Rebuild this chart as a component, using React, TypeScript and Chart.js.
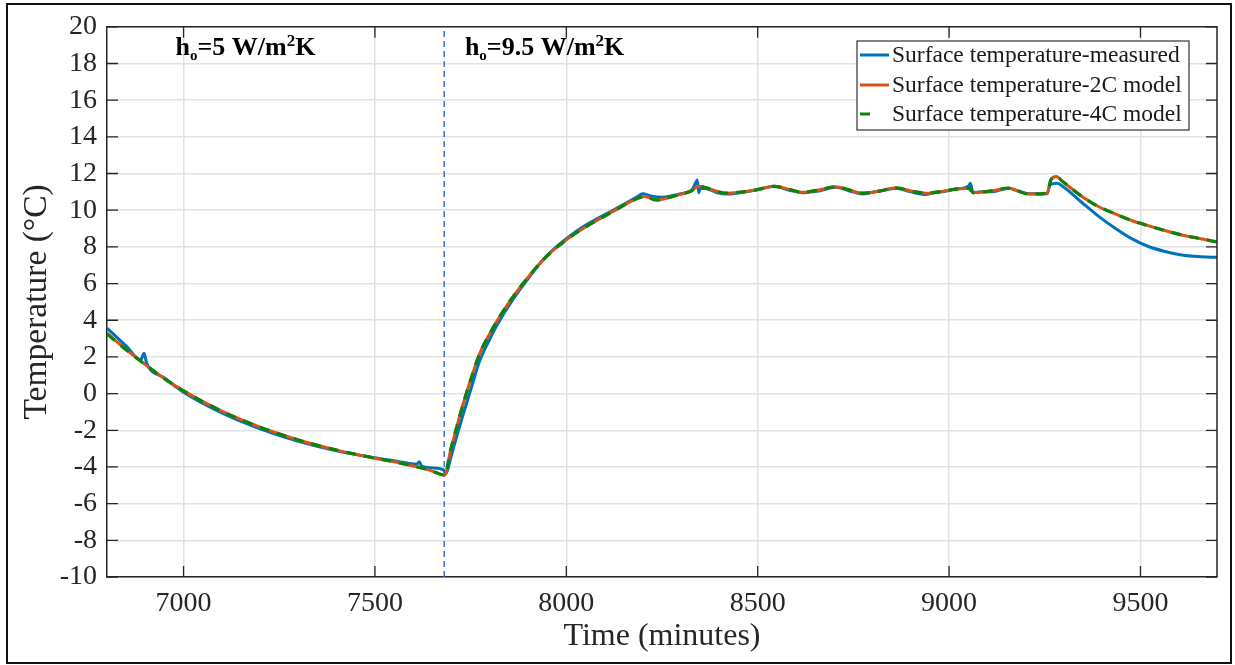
import React, { useEffect, useRef } from "react";
import { Chart, registerables } from "chart.js";

Chart.register(...registerables);

// ---------- data ----------
const measuredTime = [
  6800, 6850, 6888, 6897, 6903, 6950, 7000, 7100, 7200, 7300, 7400, 7500, 7560, 7609, 7616,
  7622, 7650, 7678, 7686, 7698, 7714, 7731, 7753, 7774, 7796, 7818, 7861, 7905, 7948, 8000,
  8052, 8122, 8183, 8200, 8220, 8250, 8278, 8300, 8326, 8338, 8342, 8346, 8350, 8370, 8395,
  8417, 8452, 8475, 8495, 8520, 8543, 8580, 8600, 8617, 8640, 8660, 8704, 8740, 8773, 8800,
  8820, 8861, 8900, 8939, 8960, 8980, 9017, 9050, 9056, 9062, 9085, 9110, 9156, 9180, 9208,
  9256, 9264, 9282, 9300, 9347, 9390, 9434, 9477, 9521, 9564, 9608, 9651, 9700,
];
const measuredTemp = [
  3.57, 2.6, 1.84, 2.2, 1.7, 0.85, 0.08, -1.05, -1.92, -2.6, -3.12, -3.5, -3.7, -3.85, -3.72,
  -3.95, -4.05, -4.15, -4.35, -3.5, -2.3, -1.1, 0.4, 1.8, 2.8, 3.7, 5.15, 6.4, 7.5, 8.45,
  9.2, 10.0, 10.7, 10.9, 10.78, 10.7, 10.8, 10.9, 11.05, 11.5, 11.65, 10.95, 11.2, 11.15, 10.95,
  10.88, 10.95, 11.02, 11.1, 11.22, 11.3, 11.1, 11.02, 10.95, 11.0, 11.05, 11.25, 11.05, 10.88, 10.98,
  11.05, 11.2, 11.0, 10.86, 10.95, 11.0, 11.15, 11.3, 11.47, 10.95, 11.0, 11.0, 11.2, 11.05, 10.9,
  10.9, 11.38, 11.47, 11.25, 10.42, 9.68, 9.02, 8.45, 8.02, 7.75, 7.56, 7.47, 7.43,
];

const modelTime = [
  6800, 6850, 6900, 6950, 7000, 7100, 7200, 7300, 7400, 7500, 7550, 7600, 7640, 7683, 7696,
  7714, 7731, 7753, 7774, 7796, 7818, 7861, 7905, 7948, 8000, 8052, 8122, 8183, 8205, 8235,
  8278, 8296, 8326, 8345, 8360, 8417, 8452, 8495, 8543, 8580, 8617, 8660, 8704, 8740, 8773,
  8820, 8861, 8900, 8939, 8980, 9017, 9050, 9065, 9110, 9156, 9208, 9256, 9266, 9280, 9297,
  9347, 9390, 9434, 9477, 9521, 9564, 9608, 9651, 9700,
];
const model2CTemp = [
  3.28, 2.4, 1.58, 0.82, 0.15, -0.96, -1.83, -2.53, -3.08, -3.52, -3.72, -3.95, -4.15, -4.44, -3.25,
  -1.8, -0.53, 0.93, 2.2, 3.11, 3.93, 5.29, 6.47, 7.47, 8.38, 9.11, 9.93, 10.62, 10.75, 10.56,
  10.75, 10.85, 11.05, 11.3, 11.25, 10.93, 10.98, 11.1, 11.3, 11.15, 10.98, 11.1, 11.28, 11.1, 10.93,
  11.05, 11.22, 11.05, 10.93, 11.02, 11.15, 11.2, 10.96, 11.05, 11.2, 10.88, 10.93, 11.65, 11.84, 11.56,
  10.75, 10.2, 9.8, 9.44, 9.15, 8.89, 8.65, 8.47, 8.27,
];
const model4CTemp = [
  3.26, 2.39, 1.58, 0.82, 0.15, -0.96, -1.83, -2.53, -3.08, -3.52, -3.72, -3.95, -4.15, -4.44, -3.22,
  -1.8, -0.53, 0.93, 2.2, 3.11, 3.93, 5.29, 6.47, 7.47, 8.38, 9.11, 9.93, 10.62, 10.75, 10.56,
  10.75, 10.85, 11.05, 11.3, 11.25, 10.93, 10.98, 11.1, 11.3, 11.15, 10.98, 11.1, 11.28, 11.1, 10.93,
  11.05, 11.22, 11.05, 10.93, 11.02, 11.15, 11.2, 10.96, 11.05, 11.2, 10.88, 10.93, 11.65, 11.84, 11.56,
  10.75, 10.2, 9.8, 9.44, 9.15, 8.89, 8.65, 8.47, 8.27,
];

const dividerTime = 7681;
const xTickValues = [7000, 7500, 8000, 8500, 9000, 9500];
const yTickValues = [-10, -8, -6, -4, -2, 0, 2, 4, 6, 8, 10, 12, 14, 16, 18, 20];
const xRange = [6800, 9700];
const yRange = [-10, 20];
const seriesLabels = [
  "Surface temperature-measured",
  "Surface temperature-2C model",
  "Surface temperature-4C model",
];
const regionLabels = [
  { time: 6979, temp: 18.45, main: "h", sub: "o", rest: "=5 W/m", sup: "2", tail: "K" },
  { time: 7735, temp: 18.45, main: "h", sub: "o", rest: "=9.5 W/m", sup: "2", tail: "K" },
];

const COLORS = {
  measured: "#0072BD",
  c2: "#D95319",
  c4: "#0b840b",
  divider: "#3a6fd8",
  axis: "#262626",
  grid: "#e2e2e2",
};
const SERIF = "'Liberation Serif', 'Times New Roman', serif";

const toXY = (xs: number[], ys: number[]) => xs.map((x, i) => ({ x, y: ys[i] }));

const decorPlugin = {
  id: "decor",
  afterDraw(chart: any) {
    const { ctx, chartArea } = chart;
    const { left, right, top, bottom } = chartArea;
    const xs = chart.scales.x;
    const ys = chart.scales.y;
    ctx.save();
    // top & right box edges
    ctx.strokeStyle = COLORS.axis;
    ctx.lineWidth = 1.5;
    ctx.beginPath();
    ctx.moveTo(left, top);
    ctx.lineTo(right, top);
    ctx.lineTo(right, bottom);
    ctx.stroke();
    // inward ticks
    const tl = 11;
    ctx.lineWidth = 1.3;
    ctx.beginPath();
    xTickValues.forEach((v) => {
      const px = xs.getPixelForValue(v);
      ctx.moveTo(px, bottom);
      ctx.lineTo(px, bottom - tl);
      ctx.moveTo(px, top);
      ctx.lineTo(px, top + tl);
    });
    yTickValues.forEach((v) => {
      const py = ys.getPixelForValue(v);
      ctx.moveTo(left, py);
      ctx.lineTo(left + tl, py);
      ctx.moveTo(right, py);
      ctx.lineTo(right - tl, py);
    });
    ctx.stroke();

    // region annotations
    ctx.fillStyle = "#000";
    ctx.textBaseline = "alphabetic";
    ctx.textAlign = "left";
    regionLabels.forEach((r) => {
      let x = xs.getPixelForValue(r.time);
      const y = ys.getPixelForValue(r.temp);
      const big = `bold 26px ${SERIF}`;
      const sub = `bold 15px ${SERIF}`;
      const sup = `bold 17px ${SERIF}`;
      ctx.font = big;
      ctx.fillText(r.main, x, y);
      x += ctx.measureText(r.main).width;
      ctx.font = sub;
      ctx.fillText(r.sub, x, y + 5);
      x += ctx.measureText(r.sub).width;
      ctx.font = big;
      ctx.fillText(r.rest, x, y);
      x += ctx.measureText(r.rest).width;
      ctx.font = sup;
      ctx.fillText(r.sup, x, y - 9);
      x += ctx.measureText(r.sup).width;
      ctx.font = big;
      ctx.fillText(r.tail, x, y);
    });

    // legend
    const lx = 857, ly = 41, lw = 332, lh = 89;
    ctx.fillStyle = "#fff";
    ctx.fillRect(lx, ly, lw, lh);
    ctx.strokeStyle = "#333";
    ctx.lineWidth = 1.2;
    ctx.strokeRect(lx, ly, lw, lh);
    const rows = [55, 85, 114];
    ctx.font = `23.5px ${SERIF}`;
    ctx.textBaseline = "middle";
    chart.data.datasets.slice(0, 3).forEach((ds: any, i: number) => {
      const yy = rows[i];
      ctx.strokeStyle = ds.borderColor;
      ctx.lineWidth = 3;
      ctx.setLineDash(ds.borderDash || []);
      ctx.beginPath();
      ctx.moveTo(860, yy);
      ctx.lineTo(i === 2 ? 872 : 889, yy);
      ctx.stroke();
      ctx.setLineDash([]);
      ctx.fillStyle = "#1a1a1a";
      ctx.fillText(ds.label, 892, yy + 1);
    });

    // outer frame
    ctx.strokeStyle = "#111";
    ctx.lineWidth = 2;
    ctx.strokeRect(7, 4, 1224, 659);
    ctx.restore();
  },
};

export default function App() {
  const ref = useRef<HTMLCanvasElement | null>(null);
  useEffect(() => {
    document.body.style.margin = "0";
    if (!ref.current) return;
    const chart = new Chart(ref.current, {
      type: "line",
      data: {
        datasets: [
          {
            label: seriesLabels[0],
            data: toXY(measuredTime, measuredTemp),
            borderColor: COLORS.measured,
            borderWidth: 3,
            pointRadius: 0,
            cubicInterpolationMode: "monotone",
            order: 3,
          },
          {
            label: seriesLabels[1],
            data: toXY(modelTime, model2CTemp),
            borderColor: COLORS.c2,
            borderWidth: 3,
            pointRadius: 0,
            cubicInterpolationMode: "monotone",
            order: 2,
          },
          {
            label: seriesLabels[2],
            data: toXY(modelTime, model4CTemp),
            borderColor: COLORS.c4,
            borderWidth: 3.2,
            borderDash: [10, 8],
            pointRadius: 0,
            cubicInterpolationMode: "monotone",
            order: 1,
          },
          {
            label: "divider",
            data: [
              { x: dividerTime, y: yRange[0] },
              { x: dividerTime, y: yRange[1] },
            ],
            borderColor: COLORS.divider,
            borderWidth: 1.5,
            borderDash: [6, 4],
            pointRadius: 0,
            order: 4,
          },
        ] as any,
      },
      options: {
        animation: false,
        responsive: false,
        devicePixelRatio: 1,
        layout: { padding: { left: 0, right: 18, top: 26, bottom: 0 } },
        plugins: { legend: { display: false }, tooltip: { enabled: false } },
        scales: {
          x: {
            type: "linear",
            min: xRange[0],
            max: xRange[1],
            afterBuildTicks: (s: any) => {
              s.ticks = xTickValues.map((v) => ({ value: v }));
            },
            afterFit: (s: any) => {
              s.height = 88;
            },
            grid: { color: COLORS.grid, lineWidth: 1.5, drawTicks: false },
            border: { display: true, color: COLORS.axis, width: 1.5 },
            ticks: {
              color: COLORS.axis,
              font: { family: SERIF, size: 28 },
              padding: 10,
              maxRotation: 0,
              autoSkip: false,
              callback: (v: any) => String(v),
            },
            title: {
              display: true,
              text: "Time (minutes)",
              color: COLORS.axis,
              font: { family: SERIF, size: 32 },
              padding: { top: 0, bottom: 9 },
            },
          },
          y: {
            type: "linear",
            min: yRange[0],
            max: yRange[1],
            afterBuildTicks: (s: any) => {
              s.ticks = yTickValues.map((v) => ({ value: v }));
            },
            afterFit: (s: any) => {
              s.width = 107;
            },
            grid: { color: COLORS.grid, lineWidth: 1.5, drawTicks: false },
            border: { display: true, color: COLORS.axis, width: 1.5 },
            ticks: {
              color: COLORS.axis,
              font: { family: SERIF, size: 28 },
              padding: 10,
              autoSkip: false,
              callback: (v: any) => String(v),
            },
            title: {
              display: true,
              text: "Temperature (°C)",
              color: COLORS.axis,
              font: { family: SERIF, size: 33.5 },
              padding: { top: 17, bottom: 0 },
            },
          },
        },
      },
      plugins: [decorPlugin],
    });
    return () => chart.destroy();
  }, []);
  return <canvas ref={ref} width={1235} height={665} style={{ display: "block" }} />;
}
